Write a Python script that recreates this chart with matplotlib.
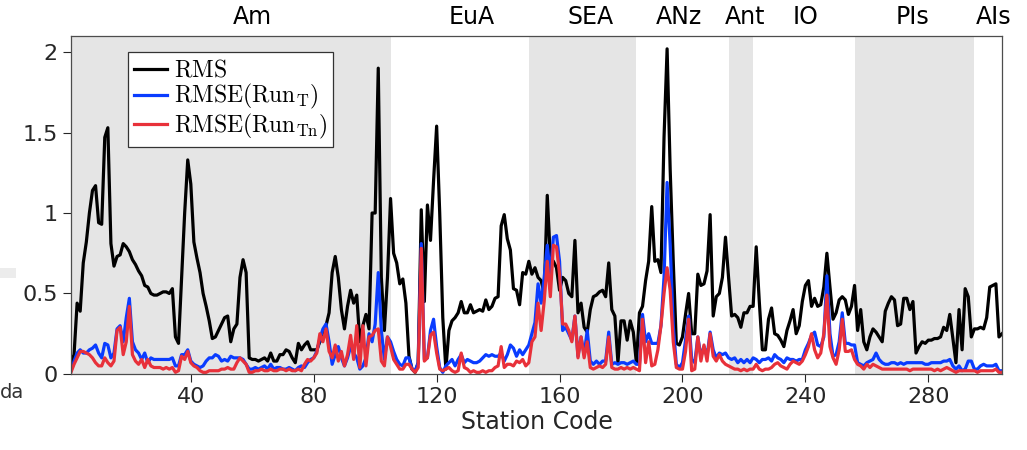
import matplotlib
matplotlib.use("Agg")
import matplotlib.pyplot as plt
import matplotlib.transforms as mtransforms
import numpy as np

plt.rcParams['font.family'] = ['DejaVu Sans']
plt.rcParams['mathtext.fontset'] = 'cm'

# RMS of the signal at each station (station code 1..304)
rms = [
    0.07, 0.12, 0.44, 0.39, 0.69, 0.82, 1.00, 1.14, 1.17, 0.94, 0.93, 1.47, 1.53, 0.81, 0.67, 0.73, 0.74, 0.81, 0.79, 0.76,
    0.71, 0.68, 0.64, 0.61, 0.55, 0.54, 0.50, 0.49, 0.49, 0.50, 0.51, 0.51, 0.50, 0.53, 0.23, 0.19, 0.60, 1.00, 1.33, 1.18,
    0.82, 0.72, 0.63, 0.50, 0.42, 0.33, 0.22, 0.23, 0.27, 0.31, 0.35, 0.36, 0.20, 0.28, 0.31, 0.60, 0.71, 0.63, 0.10, 0.09,
    0.09, 0.08, 0.09, 0.10, 0.08, 0.13, 0.08, 0.08, 0.12, 0.12, 0.15, 0.14, 0.10, 0.07, 0.19, 0.15, 0.18, 0.20, 0.15, 0.15,
    0.15, 0.20, 0.22, 0.30, 0.38, 0.63, 0.73, 0.60, 0.40, 0.28, 0.42, 0.52, 0.44, 0.49, 0.20, 0.30, 0.37, 0.28, 1.00, 1.00,
    1.90, 0.60, 0.27, 0.60, 1.09, 0.75, 0.69, 0.56, 0.59, 0.44, 0.11, 0.03, 0.01, 0.07, 1.02, 0.45, 1.05, 0.83, 1.20, 1.54,
    1.00, 0.35, 0.03, 0.27, 0.33, 0.35, 0.38, 0.45, 0.38, 0.38, 0.43, 0.38, 0.39, 0.40, 0.39, 0.46, 0.40, 0.42, 0.47, 0.48,
    0.92, 0.99, 0.84, 0.77, 0.53, 0.52, 0.43, 0.63, 0.62, 0.70, 0.62, 0.66, 0.60, 0.58, 0.50, 1.11, 0.72, 0.70, 0.66, 0.52,
    0.60, 0.58, 0.50, 0.48, 0.83, 0.38, 0.44, 0.29, 0.26, 0.40, 0.48, 0.49, 0.51, 0.52, 0.48, 0.69, 0.40, 0.36, 0.07, 0.33,
    0.33, 0.21, 0.33, 0.26, 0.07, 0.38, 0.42, 0.58, 0.70, 1.04, 0.70, 0.71, 0.63, 1.47, 2.02, 1.27, 0.70, 0.19, 0.18, 0.23,
    0.37, 0.50, 0.25, 0.25, 0.62, 0.55, 0.56, 0.64, 0.99, 0.36, 0.48, 0.50, 0.60, 0.85, 0.60, 0.36, 0.37, 0.35, 0.29, 0.38,
    0.38, 0.42, 0.42, 0.79, 0.45, 0.15, 0.15, 0.34, 0.41, 0.25, 0.24, 0.21, 0.17, 0.27, 0.33, 0.40, 0.25, 0.30, 0.45, 0.55,
    0.58, 0.42, 0.47, 0.42, 0.43, 0.54, 0.75, 0.54, 0.34, 0.38, 0.46, 0.48, 0.46, 0.37, 0.42, 0.55, 0.27, 0.40, 0.20, 0.15,
    0.23, 0.28, 0.26, 0.23, 0.20, 0.39, 0.44, 0.48, 0.46, 0.30, 0.31, 0.47, 0.47, 0.40, 0.45, 0.13, 0.17, 0.20, 0.19, 0.21,
    0.21, 0.22, 0.22, 0.23, 0.29, 0.27, 0.37, 0.22, 0.07, 0.40, 0.15, 0.53, 0.48, 0.23, 0.28, 0.28, 0.29, 0.28, 0.35, 0.54,
    0.55, 0.56, 0.23, 0.25,
]

# RMSE of Run_T
rmse_t = [
    0.02, 0.08, 0.13, 0.15, 0.13, 0.13, 0.15, 0.16, 0.18, 0.13, 0.10, 0.19, 0.18, 0.10, 0.13, 0.28, 0.30, 0.20, 0.35, 0.47,
    0.20, 0.15, 0.13, 0.09, 0.13, 0.07, 0.10, 0.09, 0.09, 0.09, 0.09, 0.09, 0.09, 0.10, 0.05, 0.05, 0.12, 0.12, 0.15, 0.08,
    0.06, 0.05, 0.04, 0.05, 0.08, 0.10, 0.10, 0.12, 0.11, 0.08, 0.09, 0.08, 0.11, 0.10, 0.10, 0.10, 0.09, 0.06, 0.03, 0.03,
    0.04, 0.03, 0.04, 0.05, 0.03, 0.06, 0.03, 0.04, 0.04, 0.03, 0.03, 0.04, 0.03, 0.02, 0.04, 0.05, 0.04, 0.07, 0.09, 0.10,
    0.14, 0.22, 0.28, 0.31, 0.20, 0.06, 0.12, 0.17, 0.10, 0.05, 0.10, 0.17, 0.13, 0.10, 0.03, 0.05, 0.10, 0.25, 0.20, 0.31,
    0.63, 0.27, 0.09, 0.23, 0.20, 0.14, 0.09, 0.06, 0.05, 0.10, 0.10, 0.03, 0.02, 0.07, 0.81, 0.09, 0.10, 0.27, 0.34, 0.17,
    0.04, 0.01, 0.05, 0.07, 0.09, 0.05, 0.09, 0.12, 0.07, 0.09, 0.08, 0.07, 0.07, 0.08, 0.10, 0.12, 0.11, 0.12, 0.11, 0.11,
    0.13, 0.08, 0.12, 0.18, 0.16, 0.11, 0.15, 0.12, 0.15, 0.18, 0.25, 0.32, 0.56, 0.44, 0.60, 0.80, 0.62, 0.85, 0.86, 0.70,
    0.27, 0.29, 0.25, 0.21, 0.36, 0.11, 0.23, 0.12, 0.27, 0.08, 0.06, 0.08, 0.06, 0.08, 0.08, 0.26, 0.06, 0.07, 0.06, 0.07,
    0.07, 0.06, 0.07, 0.08, 0.06, 0.06, 0.37, 0.20, 0.25, 0.19, 0.19, 0.19, 0.30, 0.60, 1.19, 0.80, 0.30, 0.06, 0.04, 0.07,
    0.21, 0.36, 0.09, 0.07, 0.23, 0.11, 0.17, 0.11, 0.26, 0.15, 0.10, 0.13, 0.12, 0.13, 0.10, 0.09, 0.10, 0.07, 0.09, 0.07,
    0.09, 0.07, 0.10, 0.09, 0.07, 0.09, 0.09, 0.10, 0.08, 0.12, 0.10, 0.09, 0.07, 0.10, 0.09, 0.09, 0.08, 0.09, 0.09, 0.15,
    0.19, 0.24, 0.26, 0.18, 0.17, 0.23, 0.61, 0.25, 0.11, 0.12, 0.20, 0.38, 0.19, 0.19, 0.18, 0.18, 0.07, 0.06, 0.05, 0.07,
    0.08, 0.09, 0.13, 0.09, 0.07, 0.06, 0.06, 0.07, 0.07, 0.06, 0.07, 0.06, 0.07, 0.07, 0.07, 0.07, 0.07, 0.07, 0.06, 0.06,
    0.07, 0.07, 0.07, 0.07, 0.08, 0.08, 0.09, 0.05, 0.03, 0.05, 0.02, 0.03, 0.08, 0.08, 0.03, 0.03, 0.05, 0.06, 0.05, 0.05,
    0.05, 0.06, 0.02, 0.02,
]

# RMSE of Run_Tn
rmse_tn = [
    0.01, 0.06, 0.10, 0.14, 0.14, 0.13, 0.12, 0.10, 0.07, 0.05, 0.05, 0.10, 0.07, 0.05, 0.08, 0.27, 0.29, 0.12, 0.20, 0.42,
    0.12, 0.08, 0.06, 0.09, 0.04, 0.09, 0.05, 0.04, 0.04, 0.04, 0.03, 0.04, 0.03, 0.04, 0.01, 0.02, 0.11, 0.09, 0.14, 0.07,
    0.05, 0.04, 0.02, 0.01, 0.01, 0.02, 0.02, 0.02, 0.02, 0.03, 0.03, 0.04, 0.03, 0.03, 0.07, 0.10, 0.08, 0.06, 0.01, 0.01,
    0.02, 0.02, 0.03, 0.02, 0.02, 0.03, 0.02, 0.02, 0.03, 0.03, 0.02, 0.03, 0.02, 0.02, 0.03, 0.02, 0.06, 0.09, 0.08, 0.10,
    0.13, 0.25, 0.20, 0.28, 0.14, 0.10, 0.18, 0.08, 0.14, 0.05, 0.12, 0.24, 0.09, 0.30, 0.04, 0.30, 0.05, 0.23, 0.24, 0.27,
    0.28, 0.08, 0.05, 0.23, 0.17, 0.09, 0.06, 0.03, 0.03, 0.06, 0.06, 0.03, 0.01, 0.04, 0.78, 0.08, 0.10, 0.24, 0.26, 0.13,
    0.03, 0.02, 0.03, 0.04, 0.02, 0.01, 0.02, 0.13, 0.04, 0.03, 0.01, 0.02, 0.01, 0.01, 0.02, 0.01, 0.02, 0.02, 0.04, 0.05,
    0.17, 0.04, 0.06, 0.06, 0.05, 0.08, 0.07, 0.09, 0.05, 0.07, 0.20, 0.23, 0.44, 0.27, 0.45, 0.70, 0.48, 0.80, 0.79, 0.62,
    0.31, 0.31, 0.27, 0.20, 0.36, 0.10, 0.23, 0.10, 0.20, 0.04, 0.03, 0.04, 0.05, 0.04, 0.06, 0.23, 0.04, 0.03, 0.03, 0.04,
    0.03, 0.04, 0.03, 0.04, 0.03, 0.02, 0.34, 0.07, 0.20, 0.05, 0.06, 0.15, 0.30, 0.50, 0.66, 0.52, 0.20, 0.04, 0.03, 0.03,
    0.14, 0.34, 0.02, 0.03, 0.23, 0.08, 0.18, 0.08, 0.25, 0.11, 0.08, 0.12, 0.08, 0.06, 0.05, 0.04, 0.03, 0.03, 0.02, 0.03,
    0.02, 0.03, 0.03, 0.06, 0.03, 0.02, 0.03, 0.03, 0.04, 0.06, 0.07, 0.05, 0.04, 0.03, 0.06, 0.08, 0.07, 0.06, 0.08, 0.12,
    0.17, 0.25, 0.15, 0.10, 0.13, 0.25, 0.49, 0.17, 0.10, 0.06, 0.15, 0.34, 0.14, 0.14, 0.15, 0.09, 0.06, 0.05, 0.03, 0.06,
    0.04, 0.06, 0.05, 0.04, 0.03, 0.03, 0.03, 0.03, 0.03, 0.03, 0.03, 0.03, 0.03, 0.02, 0.03, 0.03, 0.03, 0.03, 0.03, 0.03,
    0.03, 0.02, 0.03, 0.02, 0.03, 0.04, 0.03, 0.02, 0.01, 0.02, 0.02, 0.02, 0.02, 0.02, 0.02, 0.01, 0.02, 0.02, 0.02, 0.02,
    0.02, 0.03, 0.01, 0.01,
]

# regions (station code boundaries), which ones are shaded, and where the name sits
region_edges = [1, 105, 150, 185, 215, 223, 256, 295, 304]
region_shaded = [True, False, True, False, True, False, True, False]
region_names = ["Am", "EuA", "SEA", "ANz", "Ant", "IO", "PIs", "AIs"]
region_label_x = [60, 131.5, 170, 199, 220.3, 240, 274.8, 301.2]

xticks = [40, 80, 120, 160, 200, 240, 280]
yticks = [0, 0.5, 1, 1.5, 2]
ytick_labels = ["0", "0.5", "1", "1.5", "2"]

fig = plt.figure(figsize=(10.27, 4.5), dpi=100)
ax = fig.add_axes([0.0691, 0.169, 0.9066, 0.751])

for i in range(len(region_shaded)):
    if region_shaded[i]:
        ax.axvspan(region_edges[i], region_edges[i + 1], color="#e5e5e5", lw=0, zorder=0)

ax.plot(np.arange(1, len(rms) + 1), rms, color="black", lw=2.3, label=r"$\mathrm{RMS}$")
ax.plot(np.arange(1, len(rmse_t) + 1), rmse_t, color="#0a3cff", lw=2.3, label=r"$\mathrm{RMSE(Run_T)}$")
ax.plot(np.arange(1, len(rmse_tn) + 1), rmse_tn, color="#e8313a", lw=2.3, label=r"$\mathrm{RMSE(Run_{Tn})}$")

trans = mtransforms.blended_transform_factory(ax.transData, ax.transAxes)
for name, xpos in zip(region_names, region_label_x):
    ax.text(xpos, 1.02, name, transform=trans, ha="center", va="bottom", fontsize=17, color="black")

ax.set_xlim(1, 304)
ax.set_ylim(0, 2.1)
ax.set_xticks(xticks)
ax.set_yticks(yticks)
ax.set_yticklabels(ytick_labels)
ax.tick_params(direction="out", length=6, width=0.8, labelsize=16, colors="#262626")
for s in ax.spines.values():
    s.set_color("#4d4d4d")
    s.set_linewidth(0.9)
ax.set_xlabel("Station Code", fontsize=17, color="#262626", labelpad=2)

leg = ax.legend(loc="upper left", bbox_to_anchor=(0.061, 0.953), borderaxespad=0,
                fontsize=17, fancybox=False, framealpha=1, edgecolor="#333333",
                handlelength=1.4, handletextpad=0.3, labelspacing=0.02, borderpad=0.25)
leg.get_frame().set_linewidth(0.9)

# bits of neighbouring content cut off at the left edge of the picture
fig.add_artist(plt.Rectangle((0, 0.382), 0.0156, 0.022, transform=fig.transFigure,
                             color="#ececec", lw=0))
fig.text(0.0, 0.116, "da", fontsize=14, color="#333333", va="baseline")

fig.savefig("out.png", dpi=100)
